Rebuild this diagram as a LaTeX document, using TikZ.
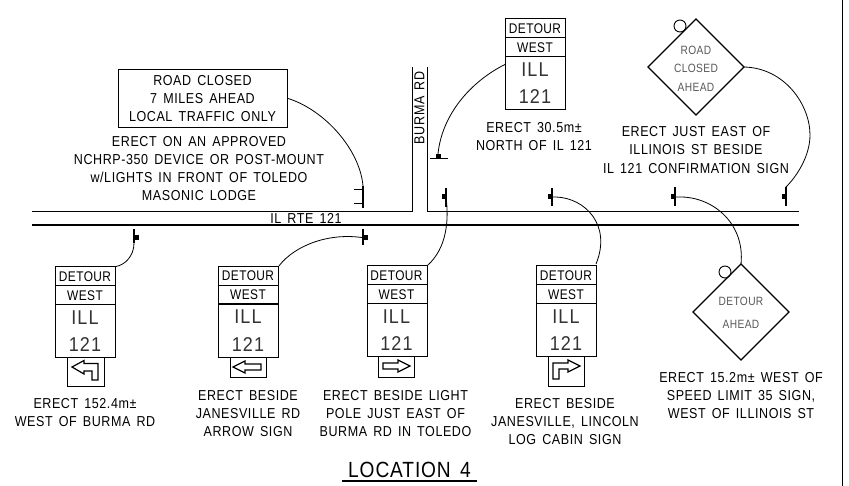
\documentclass[tikz,border=0pt]{standalone}
\usepackage{fontspec}
\newfontfamily\cad[LetterSpace=4,WordSpace=1.5,FakeStretch=0.87]{Liberation Sans}
\newfontfamily\cadsign[LetterSpace=3,FakeStretch=0.85]{Liberation Sans}
\newfontfamily\cadthin[LetterSpace=6,FakeStretch=0.9]{Liberation Sans}
\newcommand{\capfont}{\fontsize{14.4}{18.3}\selectfont\cad}
\tikzset{
  captx/.style={align=center,inner sep=0pt,font=\capfont},
  signbox/.style={draw,line width=.9pt,minimum width=60pt,inner sep=0pt},
  signtx/.style={inner sep=0pt,font=\fontsize{14}{14}\selectfont\cadsign},
  bigtx/.style={inner sep=0pt,text=black!80,font=\fontsize{20}{20}\selectfont\cadthin},
  leader/.style={line width=.8pt},
  road/.style={line width=1.1pt},
  postln/.style={line width=1.1pt},
  postsq/.style={fill=black,draw=none,minimum size=5pt,inner sep=0pt},
  arrowbox/.style={draw,line width=.9pt,inner sep=0pt},
  arrowline/.style={line width=1.2pt},
  ring/.style={draw,circle,line width=.9pt,minimum size=12pt,inner sep=0pt},
  dia/.style={line width=1.1pt},
  greytx/.style={inner sep=0pt,text=black!65,font=\fontsize{12}{12}\selectfont\cadsign}
}
% #1 name, #2 left, #3 top (x from left, y from top)
\newcommand{\detoursign}[3]{%
  \node[signbox,minimum height=91pt,anchor=north west] (#1) at (#2,#3) {};
  \draw[line width=.9pt] (#2,#3+19) -- ++(60,0);
  \draw[line width=1.1pt] (#2,#3+38) -- ++(60,0);
  \node[signtx] at (#2+30,#3+10) {DETOUR};
  \node[signtx] at (#2+30,#3+29) {WEST};
  \node[bigtx] at (#2+30,#3+51) {ILL};
  \node[bigtx] at (#2+30,#3+78.5) {121};
}
\begin{document}
\begin{tikzpicture}[x=1pt,y=-1pt]
\useasboundingbox (0,0) rectangle (849,486);
\fill[white] (0,0) rectangle (849,486);
% page frame line
\coordinate (ft) at (842,0); \coordinate (fb) at (842,486);
\draw[line width=1pt] (ft) -- (fb);
% roads
\coordinate (rla) at (32,211); \coordinate (rlb) at (412,211); \coordinate (rlc) at (412,67);
\coordinate (rra) at (427,67); \coordinate (rrb) at (427,211); \coordinate (rrc) at (799,211);
\coordinate (lla) at (32,225); \coordinate (llb) at (799,225);
\draw[road,line width=.9pt] (rla) -- (rlb) -- (rlc);
\draw[road,line width=.9pt] (rra) -- (rrb) -- (rrc);
\draw[road,line width=1.3pt] (lla) -- (llb);
\node[inner sep=0pt,font=\capfont] (rtlabel) at (306,218.5) {IL RTE 121};
\node[inner sep=0pt,font=\capfont,rotate=90] (burma) at (419.5,108) {BURMA RD};

% road closed sign
\node[draw,line width=.9pt,minimum width=169pt,minimum height=58pt,inner sep=0pt,anchor=north west] (closed) at (118,69) {};
\node[captx] (closedtx) at (202.5,98.5) {ROAD CLOSED\\7 MILES AHEAD\\LOCAL TRAFFIC ONLY};
\node[captx] (c1) at (199,168.5) {ERECT ON AN APPROVED\\NCHRP-350 DEVICE OR POST-MOUNT\\w/LIGHTS IN FRONT OF TOLEDO\\MASONIC LODGE};

% posts
\coordinate (p1a) at (363,186); \coordinate (p1b) at (363,208);
\coordinate (p1c) at (354,189.5); \coordinate (p1d) at (363,189.5);
\coordinate (p1e) at (354,203.5); \coordinate (p1f) at (363,203.5);
\draw[postln] (p1a) -- (p1b); \draw[postln] (p1c) -- (p1d); \draw[postln] (p1e) -- (p1f);
\draw[leader] (closed.east) .. controls (325,110) and (360,150) .. (p1a);

% sign top
\detoursign{s5}{505}{18.5}
\node[captx] (c5) at (534,136.5) {ERECT 30.5m±\\NORTH OF IL 121};
\coordinate (p5a) at (430,158.5); \coordinate (p5b) at (448,158.5);
\draw[postln] (p5a) -- (p5b);
\node[postsq,minimum width=5pt,minimum height=4pt] (q5) at (438,156) {};
\draw[leader] (s5.west) .. controls (470,82) and (442,115) .. (q5.north);

% diamond 1
\coordinate (dat) at (696,19); \coordinate (dar) at (744,67); \coordinate (dab) at (696,115); \coordinate (dal) at (648,67);
\draw[dia] (dat) -- (dar) -- (dab) -- (dal) -- cycle;
\node[ring] (ra) at (680,26) {};
\node[greytx] (d1a) at (696,50) {ROAD};
\node[greytx] (d1b) at (696,68.5) {CLOSED};
\node[greytx] (d1c) at (696,87) {AHEAD};
\node[captx] (c6) at (696,150) {ERECT JUST EAST OF\\ILLINOIS ST BESIDE\\IL 121 CONFIRMATION SIGN};
% post 6
\coordinate (p6a) at (786,187); \coordinate (p6b) at (786,206);
\draw[postln] (p6a) -- (p6b);
\node[postsq] (q6) at (784,197) {};
\draw[leader] (dar) .. controls (785,68) and (810,105) .. (810,135) .. controls (810,155) and (798,175) .. (p6a);

% diamond 2
\coordinate (dbt) at (741,264); \coordinate (dbr) at (789,312); \coordinate (dbb) at (741,360); \coordinate (dbl) at (693,312);
\draw[dia] (dbt) -- (dbr) -- (dbb) -- (dbl) -- cycle;
\node[ring] (rb) at (725,272) {};
\node[greytx] (d2a) at (741,301) {DETOUR};
\node[greytx] (d2b) at (741,324) {AHEAD};
\node[captx] (c7) at (741,395.5) {ERECT 15.2m± WEST OF\\SPEED LIMIT 35 SIGN,\\WEST OF ILLINOIS ST};
\coordinate (p7a) at (675,187); \coordinate (p7b) at (675,206);
\draw[postln] (p7a) -- (p7b);
\node[postsq] (q7) at (673,197) {};
\draw[leader] (q7.center) -- (682,197) .. controls (715,198) and (745,225) .. (dbt);

% sign 1
\detoursign{s1}{55}{266.5}
\node[arrowbox,minimum width=37pt,minimum height=28.5pt,anchor=north west] (a1) at (67,357.5) {};
\draw[arrowline] (72,367) -- (84,360.5) -- (84,363.5) -- (98,363.5) -- (98,380) -- (92,380) -- (92,371) -- (84,371) -- (84,374) -- cycle;
\node[captx] (cs1) at (85,412.5) {ERECT 152.4m±\\WEST OF BURMA RD};
\coordinate (p1x) at (134,229); \coordinate (p1y) at (134,243);
\draw[postln] (p1x) -- (p1y);
\node[postsq] (q1) at (136,238) {};
\draw[leader] (s1.north east) .. controls (125,265) and (134,256) .. (p1y);

% sign 2
\detoursign{s2}{218}{266}
\node[arrowbox,minimum width=36pt,minimum height=20pt,anchor=north west] (a2) at (230,357) {};
\draw[arrowline] (233,367) -- (245,361) -- (245,364) -- (261,364) -- (261,370) -- (245,370) -- (245,373) -- cycle;
\node[captx] (cs2) at (248,413.5) {ERECT BESIDE\\JANESVILLE RD\\ARROW SIGN};
\coordinate (p2x) at (363,229); \coordinate (p2y) at (363,245);
\draw[postln] (p2x) -- (p2y);
\node[postsq] (q2) at (365,238) {};
\draw[leader] (s2.north east) .. controls (295,245) and (330,232) .. (q2.center);

% sign 3
\detoursign{s3}{366.5}{265.5}
\node[arrowbox,minimum width=36pt,minimum height=20pt,anchor=north west] (a3) at (378,356.5) {};
\draw[arrowline] (410,366) -- (398,360) -- (398,363) -- (383,363) -- (383,369) -- (398,369) -- (398,372) -- cycle;
\node[captx] (cs3) at (395.5,413.5) {ERECT BESIDE LIGHT\\POLE JUST EAST OF\\BURMA RD IN TOLEDO};
\coordinate (p3a) at (446,188); \coordinate (p3b) at (446,207);
\draw[postln] (p3a) -- (p3b);
\node[postsq] (q3) at (444,197) {};
\draw[leader] (q3.center) -- (446,197) .. controls (449,220) and (447,248) .. (s3.north east);

% sign 4
\detoursign{s4}{536}{265.5}
\node[arrowbox,minimum width=36pt,minimum height=29pt,anchor=north west] (a4) at (548,356.5) {};
\draw[arrowline] (580,366) -- (568,360) -- (568,363) -- (553,363) -- (553,379) -- (559,379) -- (559,369) -- (568,369) -- (568,372) -- cycle;
\node[captx] (cs4) at (565,421.5) {ERECT BESIDE\\JANESVILLE, LINCOLN\\LOG CABIN SIGN};
\coordinate (p4a) at (552,188); \coordinate (p4b) at (552,206);
\draw[postln] (p4a) -- (p4b);
\node[postsq] (q4) at (550,197) {};
\draw[leader] (q4.center) -- (556,197) .. controls (585,198) and (612,225) .. (596,264);

% title
\node[inner sep=0pt,font=\fontsize{22}{22}\selectfont\cad] (title) at (409.5,470) {LOCATION 4};
\coordinate (ua) at (342,481); \coordinate (ub) at (477,481);
\draw[line width=1.2pt] (ua) -- (ub);
\end{tikzpicture}
\end{document}
